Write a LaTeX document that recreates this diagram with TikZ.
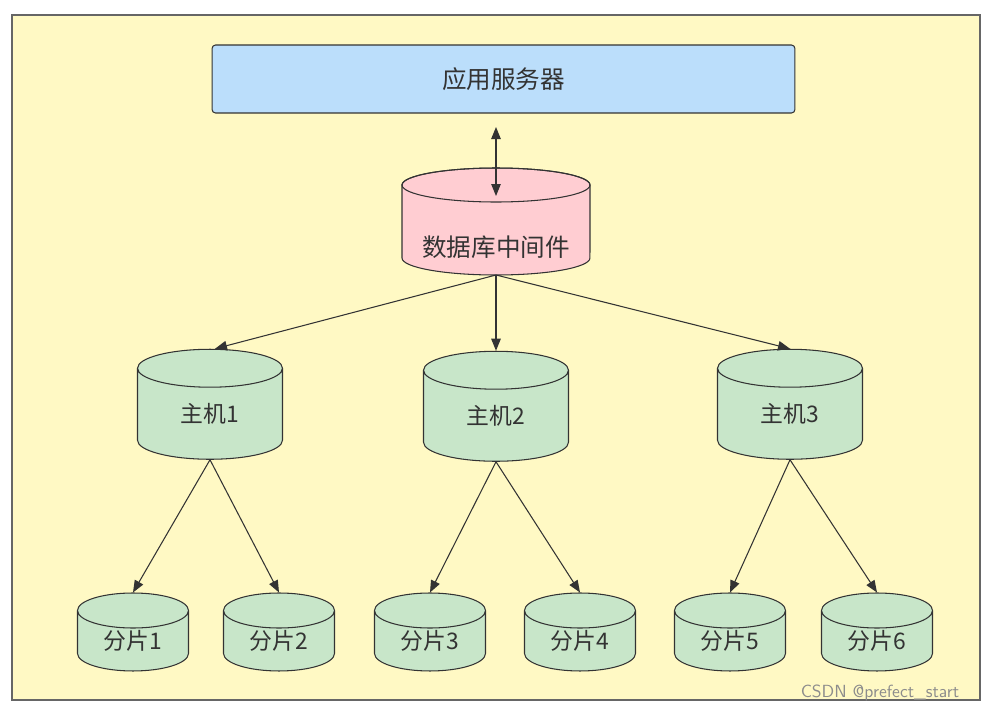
\documentclass[tikz,border=0pt]{standalone}
\usepackage{fontspec}
\setmainfont{Noto Sans CJK SC}
\usetikzlibrary{shapes.geometric,arrows.meta}
\definecolor{bg}{HTML}{FFF9C4}
\definecolor{blu}{HTML}{BBDEFB}
\definecolor{pnk}{HTML}{FFCDD2}
\definecolor{grn}{HTML}{C8E6C9}
\definecolor{ln}{HTML}{333333}
\tikzset{
  cyl/.style={cylinder, shape border rotate=90, draw=ln, line width=0.6pt, inner sep=0pt,
    cylinder uses custom fill, cylinder body fill=#1, cylinder end fill=#1,
    text=ln, font=\fontsize{13pt}{13pt}\selectfont},
  host/.style={cyl=grn, minimum width=2.9cm, minimum height=2.2cm, aspect=0.65},
  shard/.style={cyl=grn, minimum width=2.22cm, minimum height=1.56cm, aspect=0.6},
  arr/.style={draw=ln, line width=0.6pt, -{Triangle[length=2.4mm,width=1.9mm]}}
}
\begin{document}
\begin{tikzpicture}[x=0.02cm,y=-0.02cm]
\useasboundingbox (0,0) rectangle (994,714);
\fill[white] (0,0) rectangle (994,714);
\draw[fill=bg, draw=black!60, line width=0.8pt] (12,15) rectangle (980,700);
\node[draw=ln, fill=blu, rounded corners=2pt, line width=0.6pt, minimum width=11.66cm, minimum height=1.36cm, text=ln, font=\fontsize{14pt}{14pt}\selectfont] (app) at (503.5,79) {应用服务器};
% middleware cylinder
\draw[fill=pnk, draw=ln, line width=0.6pt] (402,185) -- (402,258) arc[start angle=180, end angle=360, x radius=1.88cm, y radius=0.34cm] -- (590,185) arc[start angle=0, end angle=180, x radius=1.88cm, y radius=0.34cm] -- cycle;
\draw[draw=ln, line width=0.6pt] (496,185) ellipse[x radius=1.88cm, y radius=0.34cm];
\node[text=ln, font=\fontsize{14pt}{14pt}\selectfont] (mid) at (496,247) {数据库中间件};
\coordinate (mb) at (496,275);
\node[host] (h1) at (210,414) {\raisebox{-0.3cm}{主机1}};
\node[host] (h2) at (496,416) {\raisebox{-0.3cm}{主机2}};
\node[host] (h3) at (790,414) {\raisebox{-0.3cm}{主机3}};
\node[shard] (s1) at (133,641) {\raisebox{-0.25cm}{分片1}};
\node[shard] (s2) at (279,641) {\raisebox{-0.25cm}{分片2}};
\node[shard] (s3) at (430,641) {\raisebox{-0.25cm}{分片3}};
\node[shard] (s4) at (580,641) {\raisebox{-0.25cm}{分片4}};
\node[shard] (s5) at (730,641) {\raisebox{-0.25cm}{分片5}};
\node[shard] (s6) at (877,641) {\raisebox{-0.25cm}{分片6}};
\coordinate (as) at (496,127);
\coordinate (mt) at (496,196);
\draw[draw=ln, line width=0.6pt, {Triangle[length=2.4mm,width=1.9mm]}-{Triangle[length=2.4mm,width=1.9mm]}] (as) -- (mt);
\draw[arr] (mb) -- ([xshift=0.1cm]h1.top);
\draw[arr] (mb) -- (h2.top);
\draw[arr] (mb) -- (h3.top);
\foreach \h/\a/\b in {h1/s1/s2, h2/s3/s4, h3/s5/s6}{
  \draw[arr] (\h.bottom) -- (\a.top);
  \draw[arr] (\h.bottom) -- (\b.top);
}
\node[text=black!45, font=\fontsize{10pt}{10pt}\selectfont\sffamily] (wm) at (880,693) {CSDN @prefect\_start};
\end{tikzpicture}
\end{document}
